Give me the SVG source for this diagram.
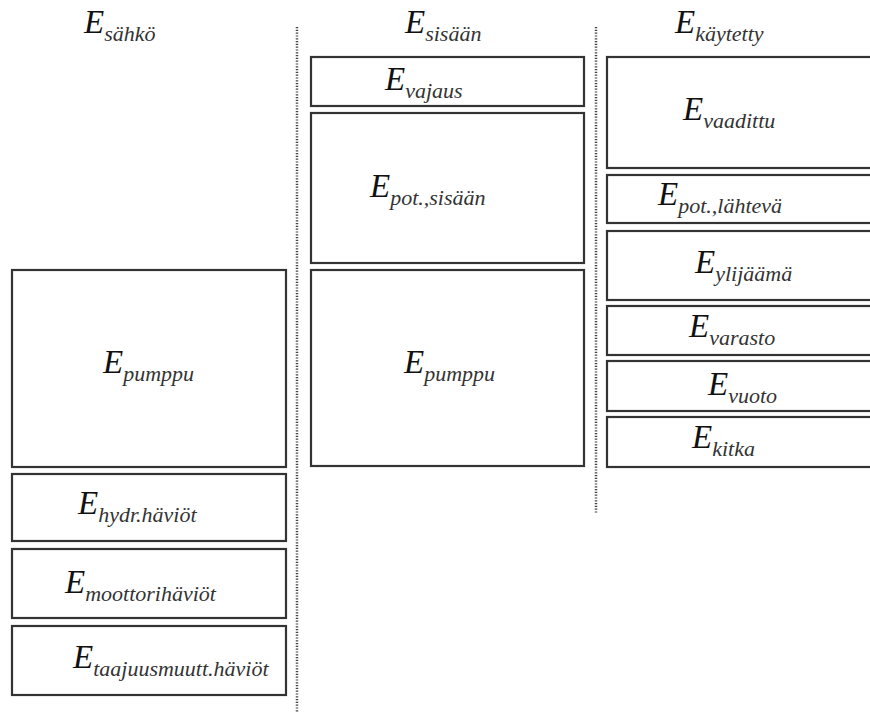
<svg xmlns="http://www.w3.org/2000/svg" width="870" height="713" viewBox="0 0 870 713">
<style>
.box{fill:#fff;stroke:#333;stroke-width:2.2}
.t{font-family:"Liberation Serif","Times New Roman",serif;font-style:italic;fill:#111;font-size:33px}
.s{font-size:22px;fill:#333}
.div{stroke:#444;stroke-width:2.5;stroke-dasharray:1.2 1.6;fill:none}
</style>
<rect width="870" height="713" fill="#fff"/>
<g id="dividers">
<line class="div" x1="297" y1="27" x2="297" y2="713"/>
<line class="div" x1="596" y1="27" x2="596" y2="514"/>
</g>
<g id="head-sahko"><text class="t" x="84" y="33">E<tspan class="s" dy="8">sähkö</tspan></text></g>
<g id="head-sisaan"><text class="t" x="405" y="33">E<tspan class="s" dy="8">sisään</tspan></text></g>
<g id="head-kaytetty"><text class="t" x="675" y="33">E<tspan class="s" dy="8">käytetty</tspan></text></g>

<g id="sahko-pumppu"><rect class="box" x="12" y="270" width="274" height="197"/><text class="t" x="103" y="373">E<tspan class="s" dy="8">pumppu</tspan></text></g>
<g id="hydr"><rect class="box" x="12" y="474" width="274" height="67"/><text class="t" x="78" y="514">E<tspan class="s" dy="8">hydr.häviöt</tspan></text></g>
<g id="moottori"><rect class="box" x="12" y="549" width="274" height="69"/><text class="t" x="65" y="593">E<tspan class="s" dy="8">moottorihäviöt</tspan></text></g>
<g id="taajuus"><rect class="box" x="12" y="626" width="274" height="69"/><text class="t" x="73" y="668">E<tspan class="s" dy="8">taajuusmuutt.häviöt</tspan></text></g>

<g id="vajaus"><rect class="box" x="311" y="57" width="273" height="49"/><text class="t" x="385" y="90">E<tspan class="s" dy="8">vajaus</tspan></text></g>
<g id="pot-sisaan"><rect class="box" x="311" y="113" width="273" height="150"/><text class="t" x="370" y="197">E<tspan class="s" dy="8">pot.,sisään</tspan></text></g>
<g id="sisaan-pumppu"><rect class="box" x="311" y="270" width="273" height="196"/><text class="t" x="404" y="373">E<tspan class="s" dy="8">pumppu</tspan></text></g>

<g id="vaadittu"><rect class="box" x="607" y="57" width="280" height="111"/><text class="t" x="683" y="120">E<tspan class="s" dy="8">vaadittu</tspan></text></g>
<g id="pot-lahteva"><rect class="box" x="607" y="175" width="280" height="48"/><text class="t" x="658" y="205">E<tspan class="s" dy="8">pot.,lähtevä</tspan></text></g>
<g id="ylijaama"><rect class="box" x="607" y="231" width="280" height="69"/><text class="t" x="695" y="273">E<tspan class="s" dy="8">ylijäämä</tspan></text></g>
<g id="varasto"><rect class="box" x="607" y="306" width="280" height="49"/><text class="t" x="689" y="337">E<tspan class="s" dy="8">varasto</tspan></text></g>
<g id="vuoto"><rect class="box" x="607" y="361" width="280" height="50"/><text class="t" x="708" y="395">E<tspan class="s" dy="8">vuoto</tspan></text></g>
<g id="kitka"><rect class="box" x="607" y="417" width="280" height="50"/><text class="t" x="692" y="448">E<tspan class="s" dy="8">kitka</tspan></text></g>
</svg>
